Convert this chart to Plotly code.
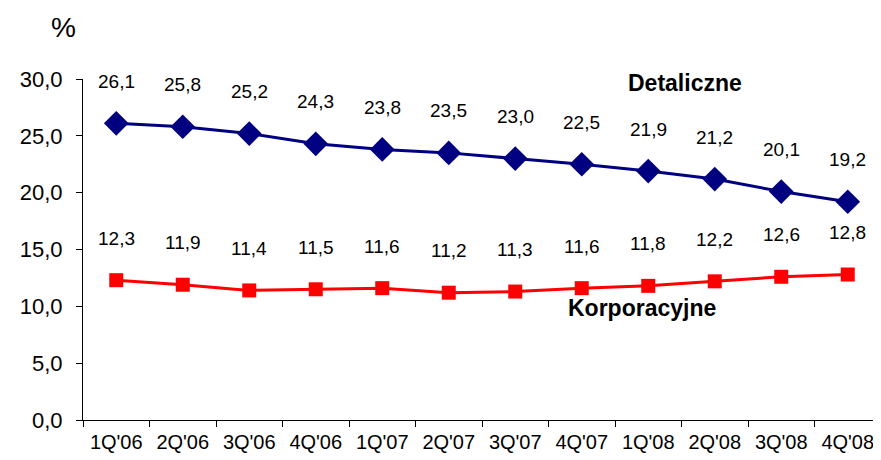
import plotly.graph_objects as go

categories = ["1Q'06", "2Q'06", "3Q'06", "4Q'06", "1Q'07", "2Q'07",
              "3Q'07", "4Q'07", "1Q'08", "2Q'08", "3Q'08", "4Q'08"]
detaliczne = [26.1, 25.8, 25.2, 24.3, 23.8, 23.5, 23.0, 22.5, 21.9, 21.2, 20.1, 19.2]
korporacyjne = [12.3, 11.9, 11.4, 11.5, 11.6, 11.2, 11.3, 11.6, 11.8, 12.2, 12.6, 12.8]
y_ticks = [0, 5, 10, 15, 20, 25, 30]

FONT = "Liberation Sans, Arial, sans-serif"
NAVY = "#000080"
RED = "#FF0000"

fig = go.Figure()
fig.add_trace(go.Scatter(
    x=categories, y=detaliczne, mode="lines+markers",
    line=dict(color=NAVY, width=3),
    marker=dict(symbol="diamond", size=19, color=NAVY),
    showlegend=False, cliponaxis=False))
fig.add_trace(go.Scatter(
    x=categories, y=korporacyjne, mode="lines+markers",
    line=dict(color=RED, width=3),
    marker=dict(symbol="square", size=14, color=RED),
    showlegend=False, cliponaxis=False))

annotations = []
for series in (detaliczne, korporacyjne):
    for c, v in zip(categories, series):
        annotations.append(dict(
            x=c, y=v, xref="x", yref="y", text=f"{v:.1f}".replace(".", ","),
            showarrow=False, yshift=42, font=dict(family=FONT, size=19, color="black")))

annotations += [
    dict(x=0.681, y=0.988, xref="paper", yref="paper", text="<b>Detaliczne</b>",
         showarrow=False, xanchor="left", yanchor="middle",
         font=dict(family=FONT, size=23, color="black")),
    dict(x=0.605, y=0.328, xref="paper", yref="paper", text="<b>Korporacyjne</b>",
         showarrow=False, xanchor="left", yanchor="middle",
         font=dict(family=FONT, size=23, color="black")),
    dict(x=-0.024, y=1.15, xref="paper", yref="paper", text="%",
         showarrow=False, xanchor="center", yanchor="middle",
         font=dict(family=FONT, size=28, color="black")),
]

fig.update_layout(
    width=873, height=452,
    margin=dict(l=75, r=0, t=71, b=40),
    paper_bgcolor="white", plot_bgcolor="white",
    separators=", ",
    annotations=annotations,
    font=dict(family=FONT, color="black"),
)
fig.update_xaxes(
    type="category", tickson="boundaries", ticks="outside", ticklen=6,
    tickcolor="black", showline=True, linecolor="black", linewidth=1,
    showgrid=False, tickfont=dict(family=FONT, size=20), automargin=False,
    ticklabelstandoff=4,
    range=[-0.5, len(categories) - 0.5])
fig.update_yaxes(
    range=[0, 30], tickvals=y_ticks, tickformat=".1f", ticks="outside", ticklen=6,
    tickcolor="black", showline=True, linecolor="black", linewidth=1,
    showgrid=False, zeroline=False, tickfont=dict(family=FONT, size=22),
    automargin=False, ticklabelstandoff=9)

fig.write_html("out.html")
